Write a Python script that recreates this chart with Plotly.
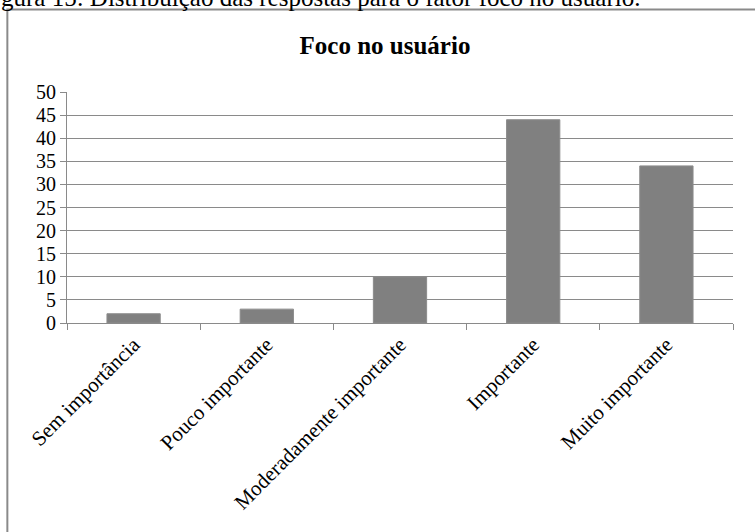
import plotly.graph_objects as go

categories = ["Sem importância", "Pouco importante", "Moderadamente importante", "Importante", "Muito importante"]
values = [2, 3, 10, 44, 34]
y_ticks = [0, 5, 10, 15, 20, 25, 30, 35, 40, 45, 50]

W, H = 755, 532
L, R, T, B = 66.7, 21.7, 91.7, 208.5
pw = W - L - R
ph = H - T - B

def px_x(p):
    return (p - L) / pw

def px_y(p):
    return (H - B - p) / ph

FONT = "Liberation Serif, Times New Roman, serif"

fig = go.Figure(go.Bar(
    x=categories, y=values,
    marker=dict(color="#808080", line=dict(color="#8c8c8c", width=1)),
    width=0.4,
))

fig.update_layout(
    width=W, height=H,
    margin=dict(l=L, r=R, t=T, b=B, autoexpand=False),
    paper_bgcolor="white", plot_bgcolor="white",
    showlegend=False,
    font=dict(family=FONT, size=20, color="black"),
    title=dict(text="Foco no usuário", xref="container", x=385 / W, xanchor="center",
               yref="container", y=1 - 45 / H, yanchor="middle",
               font=dict(family=FONT, size=25, color="black", weight="bold")),
    bargap=0.6,
)

fig.update_yaxes(range=[0, 50], tickvals=y_ticks, showgrid=True, gridcolor="#8a8a8a", gridwidth=1,
                 showline=True, linecolor="#8a8a8a", linewidth=1, ticks="outside", ticklen=6,
                 tickcolor="#8a8a8a", tickfont=dict(family=FONT, size=20, color="black"), zeroline=False,
                 fixedrange=True)
fig.update_xaxes(showline=True, linecolor="#8a8a8a", linewidth=1, ticks="outside", ticklen=6,
                 tickcolor="#8a8a8a", tickson="boundaries", tickangle=-45, showgrid=False,
                 tickfont=dict(family=FONT, size=21, color="black"), fixedrange=True)

# outer border of the chart frame
fig.add_shape(type="rect", xref="paper", yref="paper",
              x0=px_x(7), x1=px_x(W + 20), y0=px_y(H + 20), y1=px_y(9),
              line=dict(color="#8a8a8a", width=2), fillcolor="rgba(0,0,0,0)", layer="below")

# cropped caption above the frame (cut off at the top edge, as in the reference)
fig.add_annotation(text="gura 15: Distribuição das respostas para o fator foco no usuário.",
                   xref="paper", yref="paper", x=px_x(-1), y=px_y(-3), xanchor="left", yanchor="middle",
                   showarrow=False, font=dict(family=FONT, size=25, color="black"))

fig.write_html("out.html")
